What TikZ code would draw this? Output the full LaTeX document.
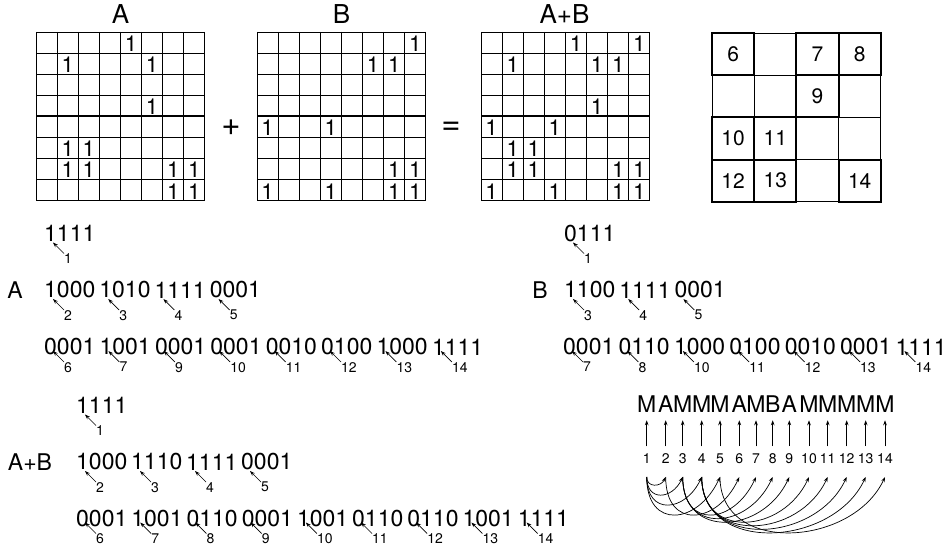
\documentclass[tikz,border=0pt]{standalone}
\usepackage{fontspec}
\setmainfont{TeX Gyre Heros}
\usetikzlibrary{arrows.meta}

\tikzset{
  cell/.style={line width=0.8pt},
  mid/.style={line width=1.8pt},
  bit/.style={inner sep=0pt, font=\fontsize{22}{22}\selectfont},
  title/.style={inner sep=0pt, font=\fontsize{26}{26}\selectfont},
  sign/.style={inner sep=0pt, font=\fontsize{33}{33}\selectfont},
  side/.style={inner sep=0pt, font=\fontsize{23}{23}\selectfont},
  letter/.style={inner sep=0pt, font=\fontsize{23}{23}\selectfont},
  word/.style={inner sep=0pt, anchor=west, font=\fontsize{23}{23}\selectfont},
  idx/.style={inner sep=0pt, anchor=north west, font=\fontsize{14}{14}\selectfont},
  num/.style={inner sep=0pt, font=\fontsize{14}{14}\selectfont},
  ptr/.style={-{Stealth[length=5pt,width=3.6pt]}, line width=0.7pt},
  qcell/.style={draw, line width=2pt, minimum size=42.2pt, inner sep=0pt,
    font=\fontsize{21}{21}\selectfont},
}

\begin{document}
\begin{tikzpicture}[x=1pt,y=-1pt]
  \useasboundingbox (0,0) rectangle (946,551);

  % the three 8x8 images
  \node[title] (tA) at (120.5,14) {A};
  \node[title] (tB) at (341.5,14) {B};
  \node[title] (tAB) at (564.5,14) {A+B};
  \node[sign] (plus) at (231,128) {+};
  \node[sign] (eq) at (451,128) {=};

  \begin{scope}[shift={(36,32)}]
    \foreach \k in {0,...,8} {
      \draw[cell] (\k*21.1,0) -- (\k*21.1,168.8);
      \draw[cell] (0,\k*21.1) -- (168.8,\k*21.1);
    }
    \draw[mid] (84.4,0) -- (84.4,168.8);
    \draw[mid] (0,84.4) -- (168.8,84.4);
    \foreach \row/\col in {0/4,1/1,1/5,3/5,5/1,5/2,6/1,6/2,6/6,6/7,7/6,7/7}
      \node[bit] (a-\row-\col) at ({(\col+0.5)*21.1},{(\row+0.5)*21.1+1}) {1};
  \end{scope}

  \begin{scope}[shift={(257,32)}]
    \foreach \k in {0,...,8} {
      \draw[cell] (\k*21.1,0) -- (\k*21.1,168.8);
      \draw[cell] (0,\k*21.1) -- (168.8,\k*21.1);
    }
    \draw[mid] (84.4,0) -- (84.4,168.8);
    \draw[mid] (0,84.4) -- (168.8,84.4);
    \foreach \row/\col in {0/7,1/5,1/6,4/0,4/3,6/6,6/7,7/0,7/3,7/6,7/7}
      \node[bit] (b-\row-\col) at ({(\col+0.5)*21.1},{(\row+0.5)*21.1+1}) {1};
  \end{scope}

  \begin{scope}[shift={(481,32)}]
    \foreach \k in {0,...,8} {
      \draw[cell] (\k*21.1,0) -- (\k*21.1,168.8);
      \draw[cell] (0,\k*21.1) -- (168.8,\k*21.1);
    }
    \draw[mid] (84.4,0) -- (84.4,168.8);
    \draw[mid] (0,84.4) -- (168.8,84.4);
    \foreach \row/\col in {0/4,0/7,1/1,1/5,1/6,3/5,4/0,4/3,5/1,5/2,6/1,6/2,6/6,6/7,7/0,7/3,7/6,7/7}
      \node[bit] (ab-\row-\col) at ({(\col+0.5)*21.1},{(\row+0.5)*21.1+1}) {1};
  \end{scope}

  % node numbering of the quadtree
  \begin{scope}[shift={(712,33)}]
    \foreach \k in {0,...,4} {
      \draw[cell] (\k*42.2,0) -- (\k*42.2,168.8);
      \draw[cell] (0,\k*42.2) -- (168.8,\k*42.2);
    }
    \foreach \row/\col/\n in {0/0/6,0/2/7,0/3/8,1/2/9,2/0/10,2/1/11,3/0/12,3/1/13,3/3/14}
      \node[qcell] (q\n) at ({(\col+0.5)*42.2},{(\row+0.5)*42.2}) {\n};
  \end{scope}

  % bit strings of A
  \node[word] (a1) at (44,233.5) {1111};
  \node[idx] (a1-n) at ([shift={(20,20)}]a1.west) {1};
  \coordinate (a1-p) at ([shift={(9,9)}]a1.west);
  \draw[ptr] (a1-n.north west) -- (a1-p);
  \node[side] (lA) at (15,290) {A};
  \foreach \b/\i [count=\k from 0] in {1000/2,1010/3,1111/4,0001/5} {
    \node[word] (a\i) at ({44+55.2*\k},290) {\b};
    \node[idx] (a\i-n) at ([shift={(20,20)}]a\i.west) {\i};
    \coordinate (a\i-p) at ([shift={(9,9)}]a\i.west);
    \draw[ptr] (a\i-n.north west) -- (a\i-p);
  }
  \foreach \b/\i [count=\k from 0] in {0001/6,1001/7,0001/9,0001/10,0010/11,0100/12,1000/13,1111/14} {
    \node[word] (a\i) at ({44+55.4*\k},347) {\b};
    \node[idx] (a\i-n) at ([shift={(20,15)}]a\i.west) {\i};
    \coordinate (a\i-p) at ([shift={(9,4)}]a\i.west);
    \draw[ptr] (a\i-n.north west) -- (a\i-p);
  }

  % bit strings of B
  \node[word] (b1) at (564,233.5) {0111};
  \node[idx] (b1-n) at ([shift={(20,20)}]b1.west) {1};
  \coordinate (b1-p) at ([shift={(9,9)}]b1.west);
  \draw[ptr] (b1-n.north west) -- (b1-p);
  \node[side] (lB) at (540,290) {B};
  \foreach \b/\i [count=\k from 0] in {1100/3,1111/4,0001/5} {
    \node[word] (b\i) at ({564+55.2*\k},290) {\b};
    \node[idx] (b\i-n) at ([shift={(20,20)}]b\i.west) {\i};
    \coordinate (b\i-p) at ([shift={(9,9)}]b\i.west);
    \draw[ptr] (b\i-n.north west) -- (b\i-p);
  }
  \foreach \b/\i [count=\k from 0] in {0001/7,0110/8,1000/10,0100/11,0010/12,0001/13,1111/14} {
    \node[word] (b\i) at ({563+55.4*\k},347) {\b};
    \node[idx] (b\i-n) at ([shift={(20,15)}]b\i.west) {\i};
    \coordinate (b\i-p) at ([shift={(9,4)}]b\i.west);
    \draw[ptr] (b\i-n.north west) -- (b\i-p);
  }

  % bit strings of A+B
  \node[word] (ab1) at (76,405.5) {1111};
  \node[idx] (ab1-n) at ([shift={(20,20)}]ab1.west) {1};
  \coordinate (ab1-p) at ([shift={(9,9)}]ab1.west);
  \draw[ptr] (ab1-n.north west) -- (ab1-p);
  \node[side] (lAB) at (30,462) {A+B};
  \foreach \b/\i [count=\k from 0] in {1000/2,1110/3,1111/4,0001/5} {
    \node[word] (ab\i) at ({76+55*\k},462) {\b};
    \node[idx] (ab\i-n) at ([shift={(20,20)}]ab\i.west) {\i};
    \coordinate (ab\i-p) at ([shift={(9,9)}]ab\i.west);
    \draw[ptr] (ab\i-n.north west) -- (ab\i-p);
  }
  \foreach \b/\i [count=\k from 0] in {0001/6,1001/7,0110/8,0001/9,1001/10,0110/11,0110/12,1001/13,1111/14} {
    \node[word] (ab\i) at ({76+55.2*\k},518.5) {\b};
    \node[idx] (ab\i-n) at ([shift={(20,15)}]ab\i.west) {\i};
    \coordinate (ab\i-p) at ([shift={(9,4)}]ab\i.west);
    \draw[ptr] (ab\i-n.north west) -- (ab\i-p);
  }

  % merge sequence
  \foreach \x/\l [count=\i] in {646.7/M,665.7/A,682.7/M,701.7/M,720/M,739.3/A,756/M,
      772.7/B,789.3/A,809/M,827.7/M,846.7/M,865.7/M,885/M} {
    \node[num] (n\i) at (\x,458.5) {\i};
    \node[letter] (l\i) at (\x,403.7) {\l};
    \coordinate (e\i) at (\x,477);
    \draw[ptr,shorten <=7pt,shorten >=8pt] (n\i) -- (l\i);
  }
  \foreach \s/\t in {1/2,1/3,1/4,1/5,2/6,3/7,3/8,3/9,4/10,4/11,4/12,4/13,5/14} {
    \pgfmathsetmacro\dep{min(14*(\t-\s)-3,33+5*(\t-\s))}
    \draw[ptr] (e\s) .. controls +(0,\dep) and +(-0.42*\dep,0.9*\dep) .. (e\t);
  }
\end{tikzpicture}
\end{document}
